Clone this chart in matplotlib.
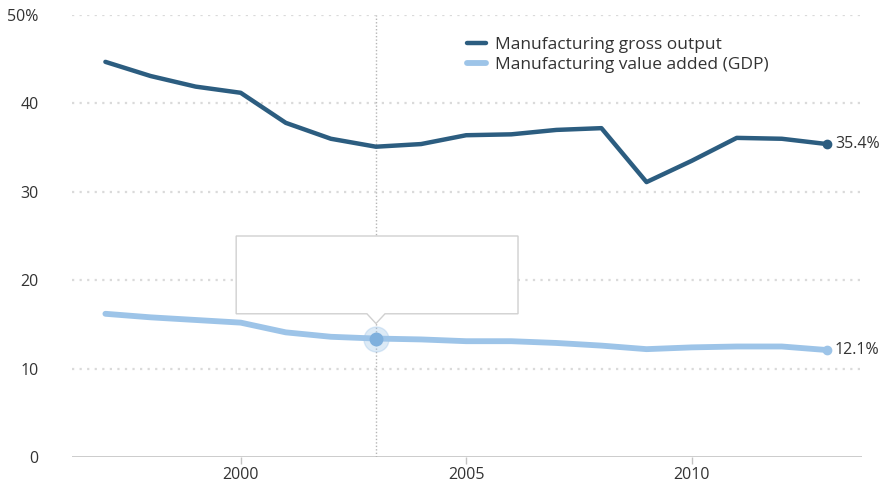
import numpy as np
import matplotlib
matplotlib.use('Agg')
import matplotlib.pyplot as plt
from matplotlib.patches import Polygon

plt.rcParams['font.family'] = ['Open Sans', 'DejaVu Sans']

years = list(range(1997, 2014))
gross_output = [44.7, 43.1, 41.9, 41.2, 37.8, 36.0, 35.1, 35.4, 36.4, 36.5,
                37.0, 37.2, 31.1, 33.5, 36.1, 36.0, 35.4]
value_added = [16.2, 15.8, 15.5, 15.2, 14.1, 13.6, 13.4, 13.3, 13.1, 13.1,
               12.9, 12.6, 12.2, 12.4, 12.5, 12.5, 12.1]
series_names = ['Manufacturing gross output', 'Manufacturing value added (GDP)']
yticks = [0, 10, 20, 30, 40, 50]
ytick_labels = ['0', '10', '20', '30', '40', '50%']
xticks = [2000, 2005, 2010]
hover_year = 2003

dark = '#2c5d80'
light = '#9dc4e8'

fig = plt.figure(figsize=(8.86, 4.87), dpi=100)
ax = fig.add_axes([0.0813, 0.0616, 0.8917, 0.9076])
ax.set_xlim(1996.26, 2013.78)
ax.set_ylim(0, 50)

for y in yticks[1:]:
    ax.axhline(y, color='#dadada', lw=1.6, ls=(0, (1, 2.4)), zorder=0)
ax.axhline(0, color='#c4c4c4', lw=1.2, zorder=1)

# crosshair at hovered year
ax.axvline(hover_year, color='#b5b5b5', lw=1.0, ls=(0, (1, 1.5)), zorder=1)

ax.plot(years, gross_output, color=dark, lw=3.2, solid_capstyle='round',
        solid_joinstyle='round', label=series_names[0], zorder=3)
ax.plot(years, value_added, color=light, lw=4.2, solid_capstyle='round',
        solid_joinstyle='round', label=series_names[1], zorder=3)

ax.plot(years[-1], gross_output[-1], 'o', color=dark, ms=6, zorder=4)
ax.plot(years[-1], value_added[-1], 'o', color=light, ms=6, zorder=4)
ax.text(years[-1] + 0.18, gross_output[-1], f'{gross_output[-1]:.1f}%',
        fontsize=11.5, color='#333333', va='center', ha='left')
ax.text(years[-1] + 0.18, value_added[-1], f'{value_added[-1]:.1f}%',
        fontsize=11.5, color='#333333', va='center', ha='left')

# hover marker
hi = years.index(hover_year)
ax.plot(hover_year, value_added[hi], 'o', color=light, ms=18, alpha=0.35, zorder=4)
ax.plot(hover_year, value_added[hi], 'o', color='#7fb0dd', ms=9, zorder=5)

# empty tooltip box
bx0, bx1, by0, by1 = 1999.9, 2006.15, 16.2, 25.0
box = Polygon([(bx0, by0), (bx0, by1), (bx1, by1), (bx1, by0),
               (hover_year + 0.2, by0), (hover_year, 15.1),
               (hover_year - 0.2, by0)],
              closed=True, facecolor='white', edgecolor='#d0d0d0', lw=1.0, zorder=6)
ax.add_patch(box)

for s in ax.spines.values():
    s.set_visible(False)
ax.set_yticks(yticks)
ax.set_yticklabels(ytick_labels)
ax.tick_params(axis='y', length=0, pad=24, labelsize=11.5, labelcolor='#333333')
ax.set_xticks(xticks)
ax.tick_params(axis='x', length=5, color='#c4c4c4', width=1, pad=2,
               labelsize=11.5, labelcolor='#333333')

leg = ax.legend(loc='upper left', bbox_to_anchor=(0.48, 0.985), frameon=False,
                fontsize=12.5, handlelength=1.1, handletextpad=0.5,
                labelspacing=0.2)
for t in leg.get_texts():
    t.set_color('#333333')

fig.savefig('out.png', dpi=100)
